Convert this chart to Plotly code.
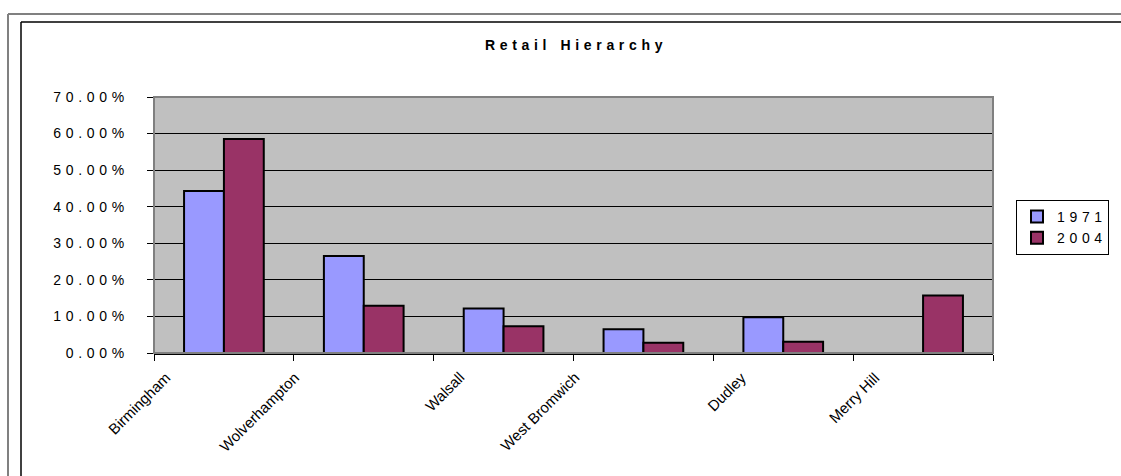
import plotly.graph_objects as go

# ---- data ----
categories = ["Birmingham", "Wolverhampton", "Walsall", "West Bromwich", "Dudley", "Merry Hill"]
series_names = ["1971", "2004"]
values_1971 = [0.443, 0.265, 0.122, 0.065, 0.098, 0.0]
values_2004 = [0.585, 0.129, 0.073, 0.028, 0.031, 0.157]
y_tickvals = [0.0, 0.1, 0.2, 0.3, 0.4, 0.5, 0.6, 0.7]
y_ticklabels = ["0.00%", "10.00%", "20.00%", "30.00%", "40.00%", "50.00%", "60.00%", "70.00%"]
title_text = "Retail Hierarchy"

# ---- style ----
THIRD = "\u2004" # three-per-em space (Excel-like letter spacing)
def spaced(s, sp):
    return sp.join(list(s)).replace(sp + " " + sp, sp + sp + sp)

FONT = "Liberation Sans, Arial, sans-serif"
W, H = 1121, 476
L, R, T, B = 154, 993, 97, 353
colors = ["#9999FF", "#993366"]
label_xshift = [-48, -58, -33, -58, -31, -38]

def px2x(p):
    return (p - L) / (R - L)

def px2y(p):
    return (B - p) / (B - T)

fig = go.Figure()
for name, vals, col in zip(series_names, [values_1971, values_2004], colors):
    fig.add_trace(go.Bar(
        x=categories, y=vals, name=spaced(name, THIRD),
        marker=dict(color=col, line=dict(color="black", width=2)),
    ))

annotations = [
    dict(text="<b>" + spaced(title_text, THIRD) + "</b>",
         xref="paper", yref="paper", x=0.5, y=px2y(45), xanchor="center", yanchor="middle",
         showarrow=False, font=dict(family=FONT, size=14, color="black")),
]
for cat, xs in zip(categories, label_xshift):
    annotations.append(dict(
        text=cat, xref="x", yref="paper", x=cat, y=0, xshift=xs, yshift=-13,
        xanchor="right", yanchor="top", textangle=-45, showarrow=False,
        font=dict(family=FONT, size=15, color="black")))

shapes = [
    # outer chart border (grey)
    dict(type="line", xref="paper", yref="paper", x0=px2x(8), y0=px2y(14), x1=px2x(W + 50), y1=px2y(14),
         line=dict(color="#808080", width=2), layer="below"),
    dict(type="line", xref="paper", yref="paper", x0=px2x(8), y0=px2y(14), x1=px2x(8), y1=px2y(H + 50),
         line=dict(color="#808080", width=2), layer="below"),
    # inner border (black)
    dict(type="line", xref="paper", yref="paper", x0=px2x(21), y0=px2y(22), x1=px2x(W + 50), y1=px2y(22),
         line=dict(color="black", width=1.5), layer="below"),
    dict(type="line", xref="paper", yref="paper", x0=px2x(21), y0=px2y(22), x1=px2x(21), y1=px2y(H + 50),
         line=dict(color="black", width=1.5), layer="below"),
    # plot-area border
    dict(type="rect", xref="paper", yref="paper", x0=0, y0=0, x1=1, y1=1,
         line=dict(color="#808080", width=2), layer="above"),
]

fig.update_layout(
    width=W, height=H,
    margin=dict(l=L, r=W - R, t=T, b=H - B, pad=0),
    paper_bgcolor="white", plot_bgcolor="#C0C0C0",
    font=dict(family=FONT, size=12, color="black"),
    barmode="group", bargap=0.43, bargroupgap=0.0,
    showlegend=True,
    legend=dict(x=px2x(1016), y=px2y(200), xanchor="left", yanchor="top",
                bordercolor="black", borderwidth=1, bgcolor="white",
                font=dict(family=FONT, size=14, color="black"),
                tracegroupgap=0, itemwidth=30),
    annotations=annotations, shapes=shapes,
)
fig.update_xaxes(
    type="category", range=[-0.5, len(categories) - 0.5], autorange=False,
    showticklabels=False, tickson="boundaries",
    ticks="outside", ticklen=6, tickcolor="black", tickwidth=1,
    showline=True, linecolor="black", linewidth=1.5, showgrid=False, zeroline=False,
)
fig.update_yaxes(
    range=[0, 0.7], autorange=False, tickvals=y_tickvals,
    ticktext=[spaced(t, THIRD) for t in y_ticklabels],
    ticks="outside", ticklen=6, tickcolor="black", tickwidth=1, ticklabelstandoff=20,
    showgrid=True, gridcolor="black", gridwidth=1, zeroline=False, showline=False,
    tickfont=dict(family=FONT, size=14, color="black"),
)

fig.write_html("out.html")
